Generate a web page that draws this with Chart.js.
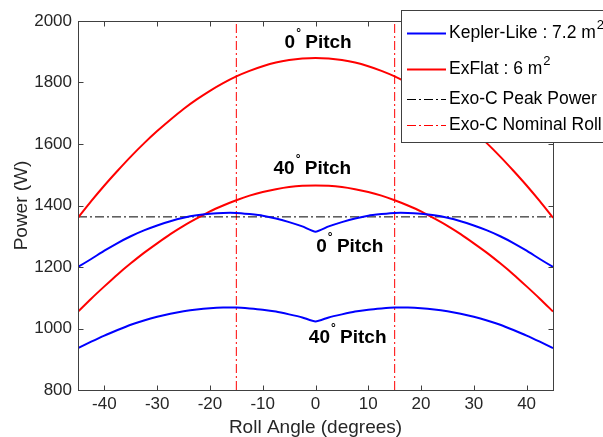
<!DOCTYPE html>
<html>
<head>
<meta charset="utf-8">
<script src="https://cdn.jsdelivr.net/npm/chart.js@4/dist/chart.umd.min.js"></script>
<style>
  body { margin: 0; background: #fff; }
</style>
</head>
<body>
<canvas id="powerChart" width="603" height="437"></canvas>
<script>
// roll angle samples (degrees)
const rollAngles = [-45, -42.5, -40, -37.5, -35, -32.5, -30, -27.5, -25, -22.5, -20, -17.5, -15, -12.5, -10, -7.5, -5, -2.5,
  0, 2.5, 5, 7.5, 10, 12.5, 15, 17.5, 20, 22.5, 25, 27.5, 30, 32.5, 35, 37.5, 40, 42.5, 45];

// Kepler-Like array power (W)
const keplerPitch0 = [1200, 1226, 1253, 1278, 1300, 1319, 1335, 1349, 1360, 1368, 1373, 1376, 1376, 1372, 1367, 1358, 1346, 1332,
  1315, 1332, 1346, 1358, 1367, 1372, 1376, 1376, 1373, 1368, 1360, 1349, 1335, 1319, 1300, 1278, 1253, 1226, 1200];
const keplerPitch40 = [936, 957, 977, 995, 1012, 1026, 1038, 1048, 1056, 1062, 1066, 1068, 1068, 1065, 1061, 1055, 1046, 1036,
  1023, 1036, 1046, 1055, 1061, 1065, 1068, 1068, 1066, 1062, 1056, 1048, 1038, 1026, 1012, 995, 977, 957, 936];

// ExFlat array power (W)
const exflatPitch0 = [1360, 1414, 1465, 1513, 1559, 1602, 1642, 1679, 1714, 1745, 1773, 1798, 1820, 1838, 1853, 1865, 1873, 1878,
  1880, 1878, 1873, 1865, 1853, 1838, 1820, 1798, 1773, 1745, 1714, 1679, 1642, 1602, 1559, 1513, 1465, 1414, 1360];
const exflatPitch40 = [1055, 1097, 1137, 1176, 1212, 1246, 1277, 1307, 1334, 1358, 1381, 1400, 1417, 1432, 1444, 1453, 1460, 1464,
  1465, 1464, 1460, 1453, 1444, 1432, 1417, 1400, 1381, 1358, 1334, 1307, 1277, 1246, 1212, 1176, 1137, 1097, 1055];

// Exo-C reference lines
const exoPeakPower = 1363;
const exoNominalRoll = [-15, 15];

// ticks
const xTicks = [-40, -30, -20, -10, 0, 10, 20, 30, 40];
const yTicks = [800, 1000, 1200, 1400, 1600, 1800, 2000];

// curve annotations (data coords)
const pitchLabels = ["0", "40", "0", "40"];
const pitchLabelX = [0.5, -0.6, 6.5, 6.1];
const pitchLabelY = [1928, 1519, 1265, 969];

// legend entries
const legendText = ["Kepler-Like : 7.2 m", "ExFlat : 6 m", "Exo-C Peak Power", "Exo-C Nominal Roll"];
const legendSup = ["2", "2", "", ""];

const BLUE = "#0000ff";
const RED = "#ff0000";
const AXIS = "#404040";
const TEXT = "#262626";
const FONT = "Arial, 'Liberation Sans', Helvetica, sans-serif";
const DASHDOT = [9, 3, 2, 3];

// legend sample styles: colour, width, dash
const legendColor = [BLUE, RED, "#000", RED];
const legendWidth = [2, 2, 1, 1];
const legendDash = [[], [], DASHDOT, DASHDOT];

function toXY(ys) {
  return rollAngles.map((x, i) => ({ x: x, y: ys[i] }));
}

function curve(label, ys, color) {
  return { label, data: toXY(ys), borderColor: color, borderWidth: 2, pointRadius: 0, tension: 0.2, fill: false };
}

const rollLineData = [];
exoNominalRoll.forEach((r, i) => {
  if (i > 0) rollLineData.push({ x: r, y: null });
  rollLineData.push({ x: r, y: 800 }, { x: r, y: 2000 });
});

// box, inward ticks, pitch labels and the legend
const decorPlugin = {
  id: "decor",
  afterDatasetsDraw(chart) {
    const ctx = chart.ctx;
    const xs = chart.scales.x, ys = chart.scales.y;
    const a = chart.chartArea;
    const L = Math.round(a.left) + 0.5, R = Math.round(a.right) + 0.5;
    const T = Math.round(a.top) + 0.5, B = Math.round(a.bottom) + 0.5;
    ctx.save();
    ctx.strokeStyle = AXIS;
    ctx.lineWidth = 1;
    ctx.strokeRect(L, T, R - L, B - T);
    ctx.beginPath();
    xTicks.forEach(v => {
      const px = Math.round(xs.getPixelForValue(v)) + 0.5;
      ctx.moveTo(px, B); ctx.lineTo(px, B - 5);
      ctx.moveTo(px, T); ctx.lineTo(px, T + 5);
    });
    yTicks.forEach(v => {
      const py = Math.round(ys.getPixelForValue(v)) + 0.5;
      ctx.moveTo(L, py); ctx.lineTo(L + 5, py);
      ctx.moveTo(R, py); ctx.lineTo(R - 5, py);
    });
    ctx.stroke();

    // "0° Pitch" style labels
    ctx.fillStyle = "#000";
    ctx.textBaseline = "middle";
    ctx.textAlign = "left";
    pitchLabels.forEach((num, i) => {
      const big = "bold 19px " + FONT, small = "bold 12px " + FONT;
      ctx.font = big;
      const w1 = ctx.measureText(num).width;
      const w3 = ctx.measureText(" Pitch").width;
      ctx.font = small;
      const w2 = ctx.measureText("°").width;
      const cx = xs.getPixelForValue(pitchLabelX[i]);
      const cy = ys.getPixelForValue(pitchLabelY[i]);
      let x0 = cx - (w1 + w2 + w3) / 2;
      ctx.font = big;
      ctx.fillText(num, x0, cy);
      ctx.font = small;
      ctx.fillText("°", x0 + w1 + 1, cy - 9);
      ctx.font = big;
      ctx.fillText(" Pitch", x0 + w1 + w2, cy);
    });
    ctx.restore();
  },
  afterDraw(chart) {
    const ctx = chart.ctx;
    const rows = [33, 69, 99, 125];
    ctx.save();
    ctx.fillStyle = "#fff";
    ctx.fillRect(401.5, 10.5, 220, 132);
    ctx.strokeStyle = AXIS;
    ctx.lineWidth = 1;
    ctx.strokeRect(401.5, 10.5, 220, 132);
    ctx.textBaseline = "middle";
    ctx.textAlign = "left";
    legendText.forEach((txt, i) => {
      const y = rows[i] + 0.5;
      ctx.strokeStyle = legendColor[i];
      ctx.lineWidth = legendWidth[i];
      ctx.setLineDash(legendDash[i]);
      ctx.beginPath();
      ctx.moveTo(407, y); ctx.lineTo(446, y);
      ctx.stroke();
      ctx.setLineDash([]);
      ctx.fillStyle = "#000";
      ctx.font = "17.5px " + FONT;
      ctx.fillText(txt, 449, rows[i]);
      if (legendSup[i]) {
        const w = ctx.measureText(txt).width;
        ctx.font = "13px " + FONT;
        ctx.fillText(legendSup[i], 449 + w + 1, rows[i] - 8);
      }
    });
    ctx.restore();
  }
};

new Chart(document.getElementById("powerChart"), {
  type: "line",
  data: {
    datasets: [
      curve("Kepler-Like 0 pitch", keplerPitch0, BLUE),
      curve("Kepler-Like 40 pitch", keplerPitch40, BLUE),
      curve("ExFlat 0 pitch", exflatPitch0, RED),
      curve("ExFlat 40 pitch", exflatPitch40, RED),
      {
        label: "Exo-C Peak Power",
        data: [{ x: -45, y: exoPeakPower }, { x: 45, y: exoPeakPower }],
        borderColor: "#000", borderWidth: 1, borderDash: DASHDOT, pointRadius: 0
      },
      {
        label: "Exo-C Nominal Roll",
        data: rollLineData,
        borderColor: RED, borderWidth: 1, borderDash: DASHDOT, pointRadius: 0, spanGaps: false
      }
    ]
  },
  options: {
    responsive: false,
    animation: false,
    devicePixelRatio: 1,
    layout: { padding: { left: 0, right: 50, top: 21, bottom: 0 } },
    plugins: { legend: { display: false }, tooltip: { enabled: false } },
    scales: {
      x: {
        type: "linear",
        min: -45,
        max: 45,
        afterBuildTicks: s => { s.ticks = xTicks.map(v => ({ value: v })); },
        afterFit: s => { s.height = 47; },
        grid: { display: false, drawTicks: false },
        border: { display: false },
        ticks: { color: TEXT, font: { family: FONT, size: 17 }, padding: 4, maxRotation: 0, callback: v => String(v) },
        title: {
          display: true, text: "Roll Angle (degrees)", color: TEXT,
          font: { family: FONT, size: 19, lineHeight: 1 }, padding: { top: 0, bottom: 0 }
        }
      },
      y: {
        min: 800,
        max: 2000,
        afterBuildTicks: s => { s.ticks = yTicks.map(v => ({ value: v })); },
        afterFit: s => { s.width = 78; },
        grid: { display: false, drawTicks: false },
        border: { display: false },
        ticks: { color: TEXT, font: { family: FONT, size: 17 }, padding: 6, callback: v => String(v) },
        title: {
          display: true, text: "Power (W)", color: TEXT,
          font: { family: FONT, size: 19, lineHeight: 1 }, padding: { top: 12, bottom: 0 }
        }
      }
    }
  },
  plugins: [decorPlugin]
});
</script>
</body>
</html>
